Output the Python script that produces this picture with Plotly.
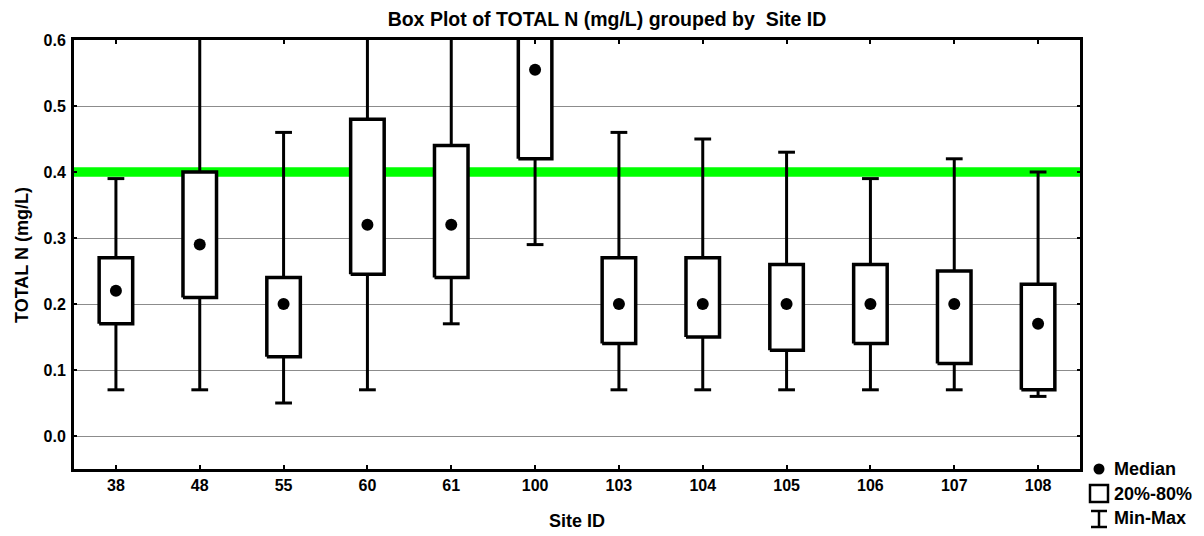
import plotly.graph_objects as go

# ---- data ----
sites = ["38", "48", "55", "60", "61", "100", "103", "104", "105", "106", "107", "108"]
vmin = [0.07, 0.07, 0.05, 0.07, 0.17, 0.29, 0.07, 0.07, 0.07, 0.07, 0.07, 0.06]
q20 = [0.17, 0.21, 0.12, 0.245, 0.24, 0.42, 0.14, 0.15, 0.13, 0.14, 0.11, 0.07]
median = [0.22, 0.29, 0.20, 0.32, 0.32, 0.555, 0.20, 0.20, 0.20, 0.20, 0.20, 0.17]
q80 = [0.27, 0.40, 0.24, 0.48, 0.44, 0.70, 0.27, 0.27, 0.26, 0.26, 0.25, 0.23]
vmax = [0.39, 0.80, 0.46, 0.80, 0.80, 0.85, 0.46, 0.45, 0.43, 0.39, 0.42, 0.40]
y_ticks = [0.0, 0.1, 0.2, 0.3, 0.4, 0.5, 0.6]
limit_value = 0.4

FONT = "Liberation Sans, Arial, sans-serif"
W, H = 1204, 536
ML, MR, MT, MB = 74, 124, 40, 67
BOX_HALF = 0.2
CAP_HALF = 0.1

xs = list(range(len(sites)))
x_lo, x_hi = -0.5, len(sites) - 0.5

# whiskers
wx, wy = [], []
for i in xs:
    wx += [i, i, None, i, i, None, i - CAP_HALF, i + CAP_HALF, None, i - CAP_HALF, i + CAP_HALF, None]
    wy += [q80[i], vmax[i], None, q20[i], vmin[i], None, vmax[i], vmax[i], None, vmin[i], vmin[i], None]

# boxes
bx, by = [], []
for i in xs:
    bx += [i - BOX_HALF, i + BOX_HALF, i + BOX_HALF, i - BOX_HALF, i - BOX_HALF, None]
    by += [q20[i], q20[i], q80[i], q80[i], q20[i], None]

fig = go.Figure()
# limit line (drawn first so it sits above the grid but beneath the boxes)
fig.add_trace(go.Scatter(x=[x_lo, x_hi], y=[limit_value, limit_value], mode="lines",
                         line=dict(color="#00ff00", width=9.5), hoverinfo="skip", showlegend=False))
fig.add_trace(go.Scatter(x=wx, y=wy, mode="lines", line=dict(color="black", width=3),
                         hoverinfo="skip", showlegend=False))
fig.add_trace(go.Scatter(x=bx, y=by, mode="lines", fill="toself", fillcolor="white",
                         line=dict(color="black", width=3.5), hoverinfo="skip", showlegend=False))
fig.add_trace(go.Scatter(x=xs, y=median, mode="markers",
                         marker=dict(color="black", size=12, symbol="circle"),
                         showlegend=False))


def px2paper(px, py):
    return (px - ML) / (W - ML - MR), (H - MB - py) / (H - MT - MB)


# custom legend
x0, y0 = px2paper(1093.5, 463.5)
x1, y1 = px2paper(1104.5, 474.5)
fig.add_shape(type="circle", xref="paper", yref="paper", x0=x0, y0=y0, x1=x1, y1=y1,
              fillcolor="black", line=dict(color="black", width=0))
x0, y0 = px2paper(1090, 485)
x1, y1 = px2paper(1108, 502)
fig.add_shape(type="rect", xref="paper", yref="paper", x0=x0, y0=y0, x1=x1, y1=y1,
              fillcolor="white", line=dict(color="black", width=2.5))
xa, ya = px2paper(1099, 511)
xb, yb = px2paper(1099, 527)
fig.add_shape(type="line", xref="paper", yref="paper", x0=xa, y0=ya, x1=xb, y1=yb,
              line=dict(color="black", width=2.5))
for yy in (511, 527):
    xl, yl = px2paper(1091, yy)
    xr, _ = px2paper(1107, yy)
    fig.add_shape(type="line", xref="paper", yref="paper", x0=xl, y0=yl, x1=xr, y1=yl,
                  line=dict(color="black", width=2.5))

for label, py in (("Median", 469), ("20%-80%", 494), ("Min-Max", 518)):
    ax, ay = px2paper(1112, py)
    fig.add_annotation(text=label, xref="paper", yref="paper", x=ax, y=ay,
                       xanchor="left", yanchor="middle", showarrow=False,
                       font=dict(family=FONT, size=18, color="black", weight="bold"))

# axis titles
ax, ay = px2paper(577, 521)
fig.add_annotation(text="Site ID", xref="paper", yref="paper", x=ax, y=ay,
                   xanchor="center", yanchor="middle", showarrow=False,
                   font=dict(family=FONT, size=18, color="black", weight="bold"))
ax, ay = px2paper(22, 255)
fig.add_annotation(text="TOTAL N (mg/L)", xref="paper", yref="paper", x=ax, y=ay,
                   xanchor="center", yanchor="middle", showarrow=False, textangle=-90,
                   font=dict(family=FONT, size=18, color="black", weight="bold"))

fig.update_layout(
    width=W, height=H,
    margin=dict(l=ML, r=MR, t=MT, b=MB, pad=0),
    paper_bgcolor="white", plot_bgcolor="white",
    title=dict(text="Box Plot of TOTAL N (mg/L) grouped by  Site ID", x=607 / W,
               xanchor="center", y=1 - 19 / H, yanchor="middle",
               font=dict(family=FONT, size=19.5, color="black", weight="bold")),
    font=dict(family=FONT, size=16, color="black", weight="bold"),
    xaxis=dict(range=[x_lo, x_hi], tickvals=xs, ticktext=sites,
               showgrid=False, zeroline=False, showline=True, linecolor="black", linewidth=3,
               mirror="ticks", ticks="inside", ticklen=4, tickwidth=2, tickcolor="black",
               tickfont=dict(size=16, weight="bold")),
    yaxis=dict(range=[-0.05, 0.6], tickvals=y_ticks, ticktext=[f"{v:.1f}" for v in y_ticks],
               showgrid=True, gridcolor="#8c8c8c", gridwidth=1, zeroline=False,
               showline=True, linecolor="black", linewidth=3,
               mirror="ticks", ticks="inside", ticklen=3, tickwidth=2, tickcolor="black",
               ticklabelstandoff=2,
               tickfont=dict(size=16, weight="bold")),
)

fig.write_html("out.html")
